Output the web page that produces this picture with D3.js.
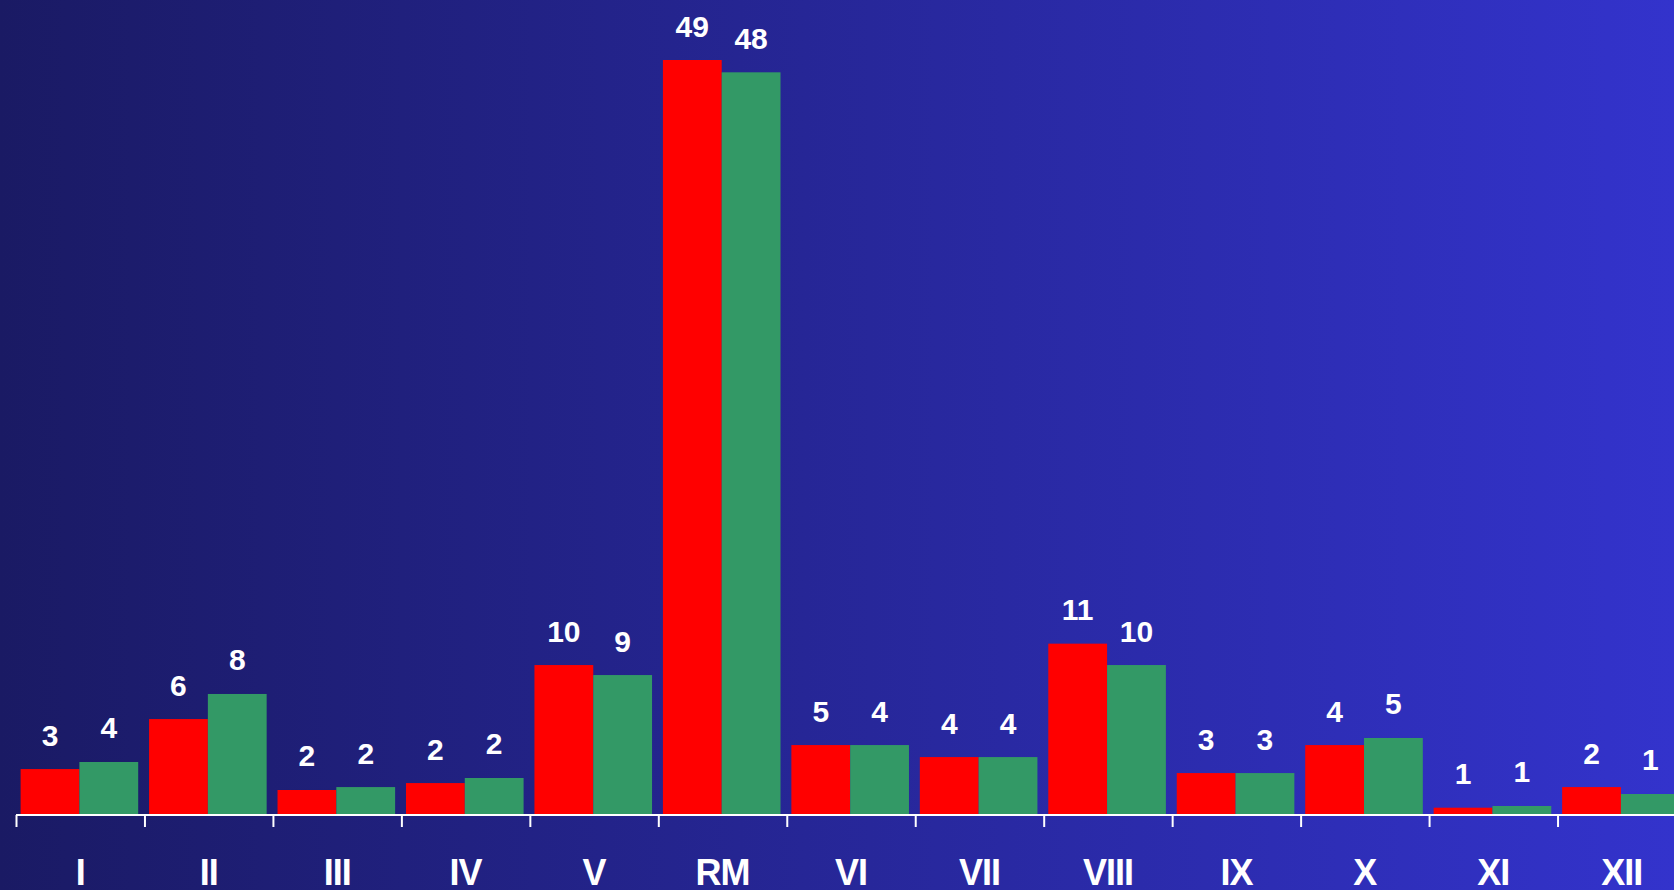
<!DOCTYPE html>
<html>
<head>
<meta charset="utf-8">
<script src="https://cdn.jsdelivr.net/npm/d3@7"></script>
<style>
html,body{margin:0;padding:0;overflow:hidden;}
svg{display:block;}
</style>
</head>
<body>
<svg id="chart" width="1674" height="890"></svg>
<script>
const categories = ["I","II","III","IV","V","RM","VI","VII","VIII","IX","X","XI","XII"];
const redValues   = [2.92, 6.17, 1.56, 2.01, 9.68, 49, 4.48, 3.70, 11.07, 2.66, 4.48, 0.41, 1.75];
const greenValues = [3.38, 7.80, 1.75, 2.34, 9.03, 48.2, 4.48, 3.70, 9.68, 2.66, 4.94, 0.52, 1.30];
const redLabels   = ["3","6","2","2","10","49","5","4","11","3","4","1","2"];
const greenLabels = ["4","8","2","2","9","48","4","4","10","3","5","1","1"];
const series = ["red","green"];
const colors = ["#ff0000", "#339966"];

const W = 1674, H = 890;
const svg = d3.select("#chart");

const defs = svg.append("defs");
const grad = defs.append("linearGradient").attr("id","bg").attr("x1","0").attr("x2","1").attr("y1","0").attr("y2","0");
grad.append("stop").attr("offset","0%").attr("stop-color","#1a1a64");
grad.append("stop").attr("offset","100%").attr("stop-color","#3333cc");
svg.append("rect").attr("width",W).attr("height",H).attr("fill","url(#bg)");

const x0 = d3.scaleBand().domain(categories).range([16, 1686]).paddingInner(0).paddingOuter(0);
const x1 = d3.scaleBand().domain(series).range([4.6, 4.6 + 117.6]);
const y = d3.scaleLinear().domain([0, 49]).range([814, 60]);

const rows = categories.map((c,i)=>({cat:c, vals:[
  {s:"red", v:redValues[i], label:redLabels[i]},
  {s:"green", v:greenValues[i], label:greenLabels[i]}
]}));

const g = svg.append("g");
const groups = g.selectAll("g.cat").data(rows).join("g").attr("class","cat")
  .attr("transform", d=>`translate(${x0(d.cat)},0)`);

groups.selectAll("rect").data(d=>d.vals).join("rect")
  .attr("x", d=>x1(d.s))
  .attr("y", d=>y(d.v))
  .attr("width", x1.bandwidth())
  .attr("height", d=>y(0)-y(d.v))
  .attr("fill", (d,i)=>colors[i]);

groups.selectAll("text").data(d=>d.vals).join("text")
  .attr("x", d=>x1(d.s)+x1.bandwidth()/2)
  .attr("y", d=>y(d.v)-23.5)
  .attr("text-anchor","middle")
  .attr("fill","#ffffff")
  .attr("font-family","'Liberation Sans', Arial, sans-serif")
  .attr("font-weight","bold")
  .attr("font-size","30px")
  .text(d=>d.label);

// axis: domain line + category labels
const axis = d3.axisBottom(x0).tickSize(0).tickPadding(0);
const ax = svg.append("g").attr("transform","translate(0,815)").call(axis);
ax.select(".domain").attr("stroke","#ffffff").attr("stroke-width",2).attr("d","M16,0H1686");
ax.selectAll(".tick text")
  .attr("fill","#ffffff")
  .attr("font-family","'Liberation Sans', Arial, sans-serif")
  .attr("font-weight","bold")
  .attr("font-size","36px")
  .attr("letter-spacing","-1px")
  .attr("dy",0)
  .attr("y",70);

// boundary ticks at band starts
svg.append("g").selectAll("line").data(categories).join("line")
  .attr("x1", d=>x0(d)+0.5).attr("x2", d=>x0(d)+0.5)
  .attr("y1", 815).attr("y2", 827)
  .attr("stroke","#ffffff").attr("stroke-width",2);
</script>
</body>
</html>
